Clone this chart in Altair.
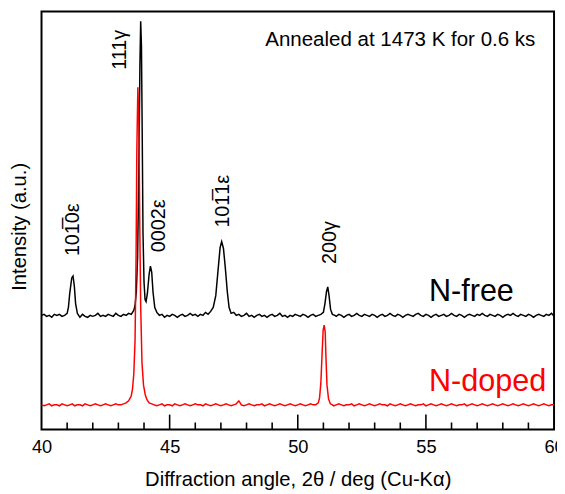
import altair as alt
import pandas as pd

# ---- data (intensity in arbitrary units, offset traces) ----
nfree_points = [
    (40.0, 116), (40.1, 117), (40.2, 115), (40.3, 116), (40.4, 114), (40.5, 117), (40.6, 116),
    (40.7, 117), (40.8, 115), (40.9, 116), (41.0, 118), (41.05, 124), (41.1, 138), (41.18, 154),
    (41.23, 156), (41.28, 146), (41.33, 128), (41.4, 118), (41.5, 114), (41.6, 117), (41.7, 115),
    (41.8, 114), (41.9, 116), (42.0, 115), (42.1, 116), (42.2, 118), (42.3, 115), (42.4, 116),
    (42.5, 115), (42.6, 117), (42.7, 116), (42.8, 115), (42.9, 118), (43.0, 116), (43.1, 115),
    (43.2, 117), (43.3, 116), (43.4, 118), (43.5, 117), (43.6, 121), (43.65, 126), (43.7, 140),
    (43.75, 175), (43.8, 270), (43.84, 370), (43.87, 415), (43.9, 390), (43.93, 300), (43.96, 200),
    (44.0, 150), (44.04, 132), (44.08, 130), (44.13, 138), (44.2, 158), (44.25, 166), (44.3, 160),
    (44.35, 140), (44.42, 124), (44.5, 119), (44.6, 116), (44.7, 117), (44.8, 114), (44.9, 116),
    (45.0, 115), (45.1, 117), (45.2, 116), (45.3, 114), (45.4, 116), (45.5, 117), (45.6, 115),
    (45.7, 116), (45.8, 118), (45.9, 116), (46.0, 117), (46.1, 115), (46.2, 117), (46.3, 116),
    (46.4, 119), (46.5, 117), (46.6, 120), (46.7, 124), (46.8, 136), (46.9, 165), (46.97, 185),
    (47.03, 191), (47.1, 184), (47.17, 165), (47.25, 140), (47.32, 124), (47.4, 118), (47.5, 119),
    (47.6, 116), (47.7, 117), (47.8, 115), (47.9, 116), (48.0, 118), (48.1, 115), (48.2, 116),
    (48.3, 114), (48.4, 116), (48.5, 117), (48.6, 115), (48.7, 116), (48.8, 114), (48.9, 116),
    (49.0, 117), (49.1, 115), (49.2, 116), (49.3, 118), (49.4, 115), (49.5, 116), (49.6, 114),
    (49.7, 116), (49.8, 115), (49.9, 117), (50.0, 116), (50.1, 115), (50.2, 117), (50.3, 116),
    (50.4, 114), (50.5, 116), (50.6, 117), (50.7, 115), (50.8, 116), (50.9, 117), (51.0, 119),
    (51.06, 128), (51.12, 140), (51.17, 145), (51.22, 136), (51.28, 122), (51.35, 117), (51.45, 116),
    (51.5, 115), (51.6, 117), (51.7, 116), (51.8, 114), (51.9, 116), (52.0, 117), (52.1, 115),
    (52.2, 116), (52.3, 118), (52.4, 116), (52.5, 115), (52.6, 117), (52.7, 116), (52.8, 115),
    (52.9, 117), (53.0, 116), (53.1, 114), (53.2, 116), (53.3, 117), (53.4, 115), (53.5, 116),
    (53.6, 118), (53.7, 116), (53.8, 115), (53.9, 117), (54.0, 116), (54.1, 114), (54.2, 116),
    (54.3, 117), (54.4, 116), (54.5, 115), (54.6, 117), (54.7, 118), (54.8, 116), (54.9, 115),
    (55.0, 117), (55.1, 116), (55.2, 114), (55.3, 116), (55.4, 117), (55.5, 115), (55.6, 116),
    (55.7, 117), (55.8, 115), (55.9, 116), (56.0, 118), (56.1, 116), (56.2, 115), (56.3, 117),
    (56.4, 116), (56.5, 114), (56.6, 116), (56.7, 117), (56.8, 116), (56.9, 115), (57.0, 117),
    (57.1, 116), (57.2, 118), (57.3, 116), (57.4, 115), (57.5, 117), (57.6, 116), (57.7, 115),
    (57.8, 117), (57.9, 116), (58.0, 114), (58.1, 116), (58.2, 117), (58.3, 116), (58.4, 118),
    (58.5, 116), (58.6, 115), (58.7, 117), (58.8, 116), (58.9, 115), (59.0, 117), (59.1, 116),
    (59.2, 114), (59.3, 116), (59.4, 117), (59.5, 116), (59.6, 115), (59.7, 117), (59.8, 116),
    (59.9, 118), (60.0, 115),
]

ndoped_points = [
    (40.0, 25), (40.1, 24), (40.2, 25), (40.3, 26), (40.4, 24), (40.5, 25), (40.6, 25), (40.7, 24),
    (40.8, 26), (40.9, 25), (41.0, 24), (41.1, 25), (41.2, 26), (41.3, 24), (41.4, 25), (41.5, 25),
    (41.6, 24), (41.7, 26), (41.8, 25), (41.9, 24), (42.0, 25), (42.1, 26), (42.2, 25), (42.3, 24),
    (42.4, 25), (42.5, 26), (42.6, 25), (42.7, 24), (42.8, 25), (42.9, 26), (43.0, 25), (43.1, 25),
    (43.2, 26), (43.3, 27), (43.4, 29), (43.5, 34), (43.55, 41), (43.6, 56), (43.65, 90),
    (43.69, 175), (43.72, 285), (43.76, 348), (43.8, 310), (43.83, 220), (43.87, 125), (43.92, 68),
    (43.98, 45), (44.05, 35), (44.12, 30), (44.2, 27), (44.3, 26), (44.4, 25), (44.5, 24),
    (44.6, 25), (44.7, 26), (44.8, 24), (44.9, 25), (45.0, 25), (45.1, 24), (45.2, 26), (45.3, 25),
    (45.4, 24), (45.5, 25), (45.6, 26), (45.7, 25), (45.8, 24), (45.9, 25), (46.0, 26), (46.1, 25),
    (46.2, 25), (46.3, 24), (46.4, 26), (46.5, 25), (46.6, 24), (46.7, 25), (46.8, 26), (46.9, 25),
    (47.0, 24), (47.1, 25), (47.2, 26), (47.3, 25), (47.4, 24), (47.5, 25), (47.6, 26), (47.7, 29),
    (47.75, 27), (47.8, 25), (47.9, 24), (48.0, 25), (48.1, 26), (48.2, 25), (48.3, 24), (48.4, 25),
    (48.5, 25), (48.6, 26), (48.7, 24), (48.8, 25), (48.9, 26), (49.0, 25), (49.1, 24), (49.2, 25),
    (49.3, 26), (49.4, 25), (49.5, 24), (49.6, 25), (49.7, 26), (49.8, 25), (49.9, 24), (50.0, 25),
    (50.1, 26), (50.2, 25), (50.3, 24), (50.4, 25), (50.5, 26), (50.6, 25), (50.7, 25), (50.8, 27),
    (50.85, 32), (50.9, 47), (50.95, 78), (50.99, 101), (51.03, 106), (51.07, 99), (51.1, 73),
    (51.14, 45), (51.2, 31), (51.27, 26), (51.35, 25), (51.4, 24), (51.5, 25), (51.6, 26),
    (51.7, 25), (51.8, 24), (51.9, 25), (52.0, 25), (52.1, 26), (52.2, 24), (52.3, 25), (52.4, 26),
    (52.5, 25), (52.6, 24), (52.7, 25), (52.8, 26), (52.9, 25), (53.0, 24), (53.1, 25), (53.2, 26),
    (53.3, 25), (53.4, 25), (53.5, 24), (53.6, 26), (53.7, 25), (53.8, 24), (53.9, 25), (54.0, 26),
    (54.1, 25), (54.2, 24), (54.3, 25), (54.4, 26), (54.5, 25), (54.6, 24), (54.7, 25), (54.8, 25),
    (54.9, 26), (55.0, 24), (55.1, 25), (55.2, 26), (55.3, 25), (55.4, 24), (55.5, 25), (55.6, 26),
    (55.7, 25), (55.8, 24), (55.9, 25), (56.0, 26), (56.1, 25), (56.2, 24), (56.3, 25), (56.4, 25),
    (56.5, 26), (56.6, 24), (56.7, 25), (56.8, 26), (56.9, 25), (57.0, 24), (57.1, 25), (57.2, 26),
    (57.3, 25), (57.4, 24), (57.5, 25), (57.6, 26), (57.7, 25), (57.8, 24), (57.9, 25), (58.0, 26),
    (58.1, 25), (58.2, 24), (58.3, 25), (58.4, 26), (58.5, 25), (58.6, 24), (58.7, 25), (58.8, 26),
    (58.9, 25), (59.0, 24), (59.1, 25), (59.2, 26), (59.3, 25), (59.4, 24), (59.5, 25), (59.6, 26),
    (59.7, 25), (59.8, 24), (59.9, 25), (60.0, 25),
]

peak_labels = ["101\u03050\u03b5", "111\u03b3", "0002\u03b5", "101\u03051\u03b5", "200\u03b3"]
peak_label_x = [41.22, 43.08, 44.6, 47.08, 51.25]
peak_label_y = [203, 386, 207, 232, 190]

major_ticks = [45, 50, 55]
minor_ticks = [41, 42, 43, 44, 46, 47, 48, 49, 51, 52, 53, 54, 56, 57, 58, 59]
x_labels = [40, 45, 50, 55, 60]

FONT = "Liberation Sans"
W, H = 520, 424

nfree_df = pd.DataFrame(nfree_points, columns=["angle", "intensity"])
ndoped_df = pd.DataFrame(ndoped_points, columns=["angle", "intensity"])

xscale = alt.Scale(domain=[40, 60], nice=False, zero=False)
yscale = alt.Scale(domain=[0, 425], nice=False, zero=False)

xaxis = alt.Axis(values=x_labels, ticks=False, domain=False, grid=False, labelFlush=False,
                 labelFontSize=18.5, labelPadding=8, labelColor="black", labelFont=FONT,
                 title="Diffraction angle, 2\u03b8 / deg (Cu-K\u03b1)", titleFontSize=20.5,
                 titleFontWeight="normal", titleFont=FONT, titleColor="black", titlePadding=14)
yaxis = alt.Axis(labels=False, ticks=False, domain=False, grid=False,
                 title="Intensity (a.u.)", titleFontSize=20.5, titleFontWeight="normal",
                 titleFont=FONT, titleColor="black", titleX=-22, titleY=218,
                 titleAngle=270, titleAlign="center", titleBaseline="middle")

black = alt.Chart(nfree_df).mark_line(color="black", strokeWidth=1.5).encode(
    x=alt.X("angle:Q", scale=xscale, axis=xaxis),
    y=alt.Y("intensity:Q", scale=yscale, axis=yaxis),
)
red = alt.Chart(ndoped_df).mark_line(color="#ff0000", strokeWidth=1.5).encode(
    x=alt.X("angle:Q", scale=xscale),
    y=alt.Y("intensity:Q", scale=yscale),
)

major = alt.Chart(pd.DataFrame({"t": major_ticks})).mark_rule(color="black", strokeWidth=1.6).encode(
    x=alt.X("t:Q", scale=xscale), y=alt.value(H), y2=alt.value(H - 15))
minor = alt.Chart(pd.DataFrame({"t": minor_ticks})).mark_rule(color="black", strokeWidth=1.6).encode(
    x=alt.X("t:Q", scale=xscale), y=alt.value(H), y2=alt.value(H - 7))

labels = alt.Chart(pd.DataFrame({"x": peak_label_x, "y": peak_label_y, "t": peak_labels})).mark_text(
    angle=270, align="center", baseline="middle", fontSize=20, font=FONT, color="black"
).encode(x=alt.X("x:Q", scale=xscale), y=alt.Y("y:Q", scale=yscale), text="t:N")

note = alt.Chart(pd.DataFrame({"x": [54.0], "y": [390], "t": ["Annealed at 1473 K for 0.6 ks"]})).mark_text(
    align="center", baseline="alphabetic", fontSize=20.8, font=FONT, color="black"
).encode(x=alt.X("x:Q", scale=xscale), y=alt.Y("y:Q", scale=yscale), text="t:N")

free_lbl = alt.Chart(pd.DataFrame({"x": [55.12], "y": [131], "t": ["N-free"]})).mark_text(
    align="left", baseline="alphabetic", fontSize=31, font=FONT, color="black"
).encode(x=alt.X("x:Q", scale=xscale), y=alt.Y("y:Q", scale=yscale), text="t:N")

doped_lbl = alt.Chart(pd.DataFrame({"x": [55.12], "y": [39], "t": ["N-doped"]})).mark_text(
    align="left", baseline="alphabetic", fontSize=31, font=FONT, color="#ff0000"
).encode(x=alt.X("x:Q", scale=xscale), y=alt.Y("y:Q", scale=yscale), text="t:N")

chart = alt.layer(black, red, major, minor, labels, note, free_lbl, doped_lbl).properties(
    width=W, height=H,
    background="white",
    autosize=alt.AutoSizeParams(type="none"),
    padding={"left": 34, "top": 0, "right": 3, "bottom": 62},
).configure_view(stroke="black", strokeWidth=2)

chart.save("out.html", embed_options={"renderer": "svg", "actions": False})
